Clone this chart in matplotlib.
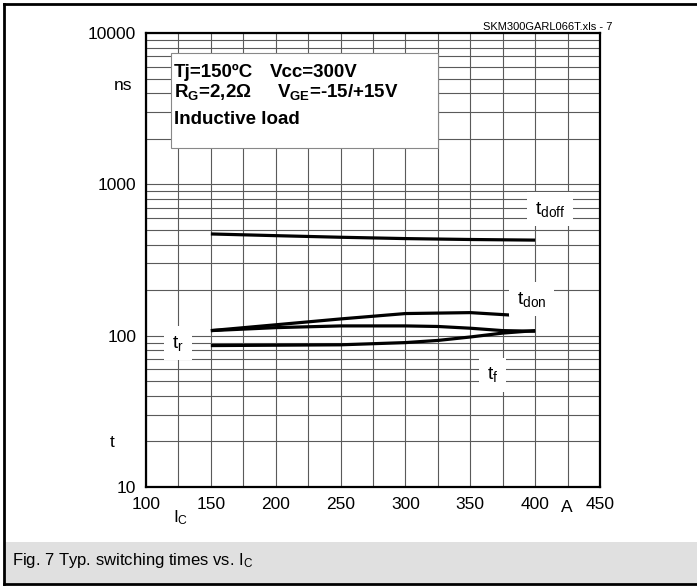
import matplotlib
matplotlib.use("Agg")
import matplotlib.pyplot as plt
from matplotlib.patches import Rectangle
from matplotlib.lines import Line2D

plt.rcParams['font.family'] = ['Liberation Sans', 'DejaVu Sans']
plt.rcParams['mathtext.fontset'] = 'custom'
plt.rcParams['mathtext.rm'] = 'Liberation Sans'
plt.rcParams['mathtext.it'] = 'Liberation Sans'
plt.rcParams['mathtext.bf'] = 'Liberation Sans:bold'

# data (I_C in A, t in ns)
ic = [150, 200, 250, 300, 350, 400]
t_doff = [470, 458, 447, 438, 432, 428]
ic_don = [150, 200, 250, 300, 350, 380]
t_don = [108, 118, 129, 140, 142, 137]
ic_rf = [150, 200, 250, 300, 325, 350, 375, 400]
t_r = [108, 113, 116, 116, 115, 112, 108, 107]
t_f = [86, 86.5, 87, 90, 93, 98, 104, 108]

x_ticks = [100, 150, 200, 250, 300, 350, 400, 450]
y_ticks = [10, 100, 1000, 10000]
y_labels = ['10', '100', '1000', '10000']

fig = plt.figure(figsize=(6.97, 5.86), dpi=100)
ax = fig.add_axes([146 / 697, 1 - 487 / 586, 454 / 697, 454 / 586])

# frame of the whole picture and the caption band
fig.patches.append(Rectangle((5 / 697, 3 / 586), 1, 41 / 586, transform=fig.transFigure,
                             fc='#e0e0e0', ec='none', zorder=0))
fig.lines.append(Line2D([4 / 697, 4 / 697], [2 / 586, 582 / 586], transform=fig.transFigure, color='black', lw=2))
fig.lines.append(Line2D([4 / 697, 1], [582 / 586, 582 / 586], transform=fig.transFigure, color='black', lw=2))
fig.lines.append(Line2D([4 / 697, 1], [2 / 586, 2 / 586], transform=fig.transFigure, color='black', lw=2))

for x, y in [(ic, t_doff), (ic_don, t_don), (ic_rf, t_r), (ic_rf, t_f)]:
    ax.plot(x, y, color='black', lw=2.3, zorder=5, solid_capstyle='butt')

ax.set_yscale('log')
ax.set_xlim(100, 450)
ax.set_ylim(10, 10000)
ax.set_xticks(x_ticks)
ax.set_xticklabels([str(v) for v in x_ticks])
ax.set_xticks(range(125, 450, 50), minor=True)
ax.set_yticks(y_ticks)
ax.set_yticklabels(y_labels)
ax.tick_params(which='both', length=0, labelsize=12.5)
ax.tick_params(axis='y', pad=7)
ax.tick_params(axis='x', pad=7)
ax.grid(True, which='both', color='#5a5a5a', lw=0.8)
ax.set_axisbelow(True)
for s in ax.spines.values():
    s.set_linewidth(1.6)

# parameter box
ax.add_patch(Rectangle((0.055, 0.747), 0.588, 0.209, transform=ax.transAxes,
                       fc='white', ec='#888888', lw=0.8, zorder=3))
kw = dict(transform=ax.transAxes, fontsize=13.5, fontweight='bold', zorder=4, va='baseline')
ax.text((174 - 146) / 454, 0.903, 'Tj=150ºC', **kw)
ax.text((270 - 146) / 454, 0.903, 'Vcc=300V', **kw)
ax.text((174 - 146) / 454, 0.859, r'R$\mathbf{_G}$=2,2Ω', **kw)
ax.text((277 - 146) / 454, 0.859, r'V$\mathbf{_{GE}}$=-15/+15V', **kw)
ax.text((174 - 146) / 454, 0.800, 'Inductive load', **kw)

# curve labels on white patches
lab = dict(transform=ax.transAxes, fontsize=14, ha='center', va='center', zorder=6,
           bbox=dict(boxstyle='square,pad=0.4', fc='white', ec='none'))
ax.text(0.890, 0.612, r'$\mathregular{t_{doff}}$', **lab)
ax.text(0.850, 0.414, r'$\mathregular{t_{don}}$', **lab)
ax.text(0.070, 0.317, r'$\mathregular{t_r}$', **lab)
ax.text(0.764, 0.247, r'$\mathregular{t_f}$', **lab)

# axis names
ax.text(-0.051, 0.885, 'ns', transform=ax.transAxes, fontsize=12.5, ha='center', va='center')
ax.text(-0.075, 0.099, 't', transform=ax.transAxes, fontsize=12.5, ha='center', va='center')
ax.text(0.927, -0.046, 'A', transform=ax.transAxes, fontsize=12.5, ha='center', va='center')
ax.text(0.077, -0.068, r'$\mathregular{I_C}$', transform=ax.transAxes, fontsize=12.5, ha='center', va='center')

fig.text(612 / 697, 1 - 27 / 586, 'SKM300GARL066T.xls - 7', fontsize=8, ha='right', va='center')
fig.text(12 / 697, 1 - 561 / 586, r'Fig. 7 Typ. switching times vs. $\mathregular{I_C}$', fontsize=12,
         ha='left', va='center')

fig.savefig('out.png', dpi=100)
